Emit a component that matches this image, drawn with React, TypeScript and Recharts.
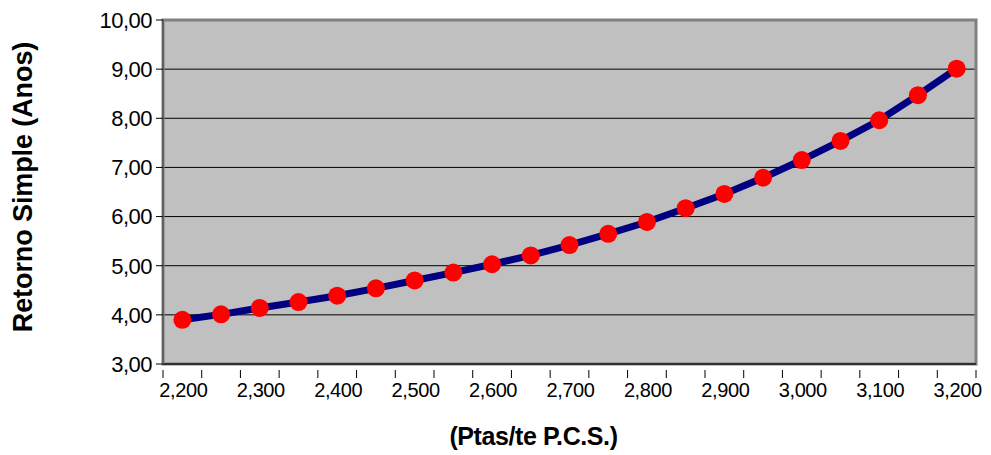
import React from "react";
import { LineChart, Line, XAxis, YAxis, CartesianGrid, ReferenceArea } from "recharts";

const prices = [2200, 2250, 2300, 2350, 2400, 2450, 2500, 2550, 2600, 2650, 2700, 2750, 2800, 2850, 2900, 2950, 3000, 3050, 3100, 3150, 3200];
const retorno = [3.90, 4.01, 4.14, 4.26, 4.39, 4.54, 4.70, 4.86, 5.03, 5.21, 5.42, 5.65, 5.89, 6.17, 6.46, 6.79, 7.15, 7.54, 7.96, 8.47, 9.01];
const xLabelValues = [2200, 2300, 2400, 2500, 2600, 2700, 2800, 2900, 3000, 3100, 3200];
const yTicks = [3, 4, 5, 6, 7, 8, 9, 10];

const half = 25;
const boundaries = [...prices.map((p) => p - half), prices[prices.length - 1] + half];
const data = prices.map((p, i) => ({ x: p, y: retorno[i] }));
const xTicks = [...boundaries, ...xLabelValues].sort((a, b) => a - b);

const FONT = "'Liberation Sans', Arial, sans-serif";

const fmtX = (v: number) => v.toLocaleString("en-US");
const fmtY = (v: number) => v.toFixed(2).replace(".", ",");

const XTick = (props: any) => {
  const { x, y, payload } = props;
  const v = payload.value;
  if (xLabelValues.includes(v)) {
    return (
      <text x={x + 1} y={y + 25} textAnchor="middle" fontFamily={FONT} fontSize={20} fill="#000" letterSpacing={-0.4}>
        {fmtX(v)}
      </text>
    );
  }
  return <line x1={x} x2={x} y1={y - 2} y2={y + 6} stroke="#000" strokeWidth={1} />;
};

const YTitle = (props: any) => {
  const vb = props.viewBox;
  const cx = vb.x + 23;
  const cy = vb.y + vb.height / 2 - 5;
  return (
    <text x={cx} y={cy} transform={`rotate(-90 ${cx} ${cy})`} textAnchor="middle" dominantBaseline="central" fontFamily={FONT} fontSize={27} fontWeight="bold" fill="#000" letterSpacing={-0.1}>
      Retorno Simple (Anos)
    </text>
  );
};

const XTitle = (props: any) => {
  const vb = props.viewBox;
  const cx = vb.x + vb.width / 2 - 36;
  const cy = 445;
  return (
    <text x={cx} y={cy} textAnchor="middle" fontFamily={FONT} fontSize={25} fontWeight="bold" fill="#000" letterSpacing={-0.4}>
      (Ptas/te P.C.S.)
    </text>
  );
};

export default function App() {
  return (
    <div style={{ position: "absolute", left: 0, top: 0, width: 991, height: 455, background: "#fff" }}>
      <LineChart width={991} height={455} data={data} margin={{ top: 20, right: 15, bottom: 61, left: 0 }}>
        <CartesianGrid horizontal vertical={false} stroke="#000" strokeOpacity={1} fill="#C0C0C0" fillOpacity={1} />
        <ReferenceArea x1={boundaries[0]} x2={boundaries[boundaries.length - 1]} y1={3} y2={10} fill="none" stroke="#808080" strokeWidth={3} ifOverflow="visible" />
        <XAxis
          type="number"
          dataKey="x"
          domain={[boundaries[0], boundaries[boundaries.length - 1]]}
          ticks={xTicks}
          interval={0}
          tickLine={false}
          tick={<XTick />}
          height={30}
          axisLine={{ stroke: "#303030", strokeWidth: 2 }}
          label={<XTitle />}
        />
        <YAxis
          type="number"
          domain={[3, 10]}
          ticks={yTicks}
          interval={0}
          width={163}
          tickSize={7}
          tickMargin={4}
          tickFormatter={fmtY}
          tick={{ fontFamily: FONT, fontSize: 22, fill: "#000", letterSpacing: -0.5 }}
          tickLine={{ stroke: "#000" }}
          axisLine={{ stroke: "#606060", strokeWidth: 2 }}
          label={<YTitle />}
        />
        <Line
          dataKey="y"
          stroke="#000080"
          strokeWidth={7}
          isAnimationActive={false}
          dot={{ r: 9, fill: "#FF0000", stroke: "none" }}
          activeDot={false}
        />
      </LineChart>
    </div>
  );
}
